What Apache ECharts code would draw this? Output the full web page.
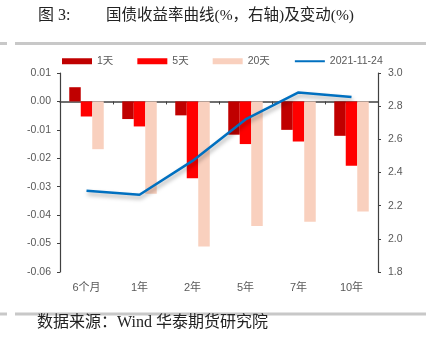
<!DOCTYPE html>
<html><head><meta charset="utf-8">
<script src="https://cdn.jsdelivr.net/npm/echarts@6/dist/echarts.min.js"></script>
<style>html,body{margin:0;padding:0;background:#fff}#c{width:426px;height:348px}</style>
</head><body><div id="c"></div>
<script>
const categories = ['6个月', '1年', '2年', '5年', '7年', '10年'];
const change1d = [0.005, -0.0062, -0.0049, -0.0117, -0.0100, -0.0121];
const change5d = [-0.0053, -0.0088, -0.0270, -0.0150, -0.0141, -0.0226];
const change20d = [-0.0168, -0.0325, -0.0510, -0.0438, -0.0423, -0.0387];
const yieldCurve = [2.29, 2.266, 2.47, 2.72, 2.883, 2.855];
const seriesNames = ['1天', '5天', '20天', '2021-11-24'];
const titleLabel = '图 3:';
const titleText = '国债收益率曲线(%，右轴)及变动(%)';
const sourceText = '数据来源：Wind 华泰期货研究院';

const chart = echarts.init(document.getElementById('c'), null, {renderer: 'canvas'});
const cjk = '"Liberation Serif", "Noto Sans CJK SC", serif';
const lab = '"Liberation Sans", "Noto Sans CJK SC", sans-serif';
const gray = '#595959';
const axisCol = '#404040';
chart.setOption({
  animation: false,
  backgroundColor: '#fff',
  grid: {left: 60, right: 48, top: 73, bottom: 76, containLabel: false},
  legend: {
    top: 51, left: 57, itemGap: 24, itemWidth: 30, itemHeight: 6,
    textStyle: {color: gray, fontSize: 10.5, fontFamily: lab},
    data: [
      {name: seriesNames[0], icon: 'rect'},
      {name: seriesNames[1], icon: 'rect'},
      {name: seriesNames[2], icon: 'rect'},
      {name: seriesNames[3], itemStyle: {opacity: 0}}
    ]
  },
  graphic: [
    {type: 'text', left: 38, top: 8, style: {text: titleLabel, font: '16px ' + cjk, fill: '#222'}},
    {type: 'text', left: 106, top: 8, style: {text: titleText, font: '15.5px ' + cjk, fill: '#222'}},
    {type: 'rect', shape: {x: 0, y: 42, width: 7, height: 3}, style: {fill: '#c8c8c8'}},
    {type: 'rect', shape: {x: 15, y: 42, width: 411, height: 3}, style: {fill: '#c8c8c8'}},
    {type: 'rect', shape: {x: 0, y: 312.5, width: 7, height: 3}, style: {fill: '#c8c8c8'}},
    {type: 'rect', shape: {x: 15, y: 312.5, width: 411, height: 3}, style: {fill: '#c8c8c8'}},
    {type: 'text', left: 37, top: 315, style: {text: sourceText, font: '16px ' + cjk, fill: '#222'}}
  ],
  xAxis: [
    {
      type: 'category', data: categories, position: 'bottom',
      axisLine: {show: false, onZero: false}, axisTick: {show: false},
      axisLabel: {color: gray, fontSize: 11, fontFamily: lab, margin: 10}
    },
    {
      type: 'category', data: categories, position: 'bottom',
      axisLine: {show: true, onZero: true, onZeroAxisIndex: 0, lineStyle: {color: axisCol, width: 1.5}},
      axisTick: {show: true, length: 3, lineStyle: {color: axisCol}},
      axisLabel: {show: false}
    }
  ],
  yAxis: [
    {
      type: 'value', min: -0.06, max: 0.01, interval: 0.01, position: 'left',
      splitLine: {show: false},
      axisLine: {show: true, lineStyle: {color: axisCol, width: 1.2}},
      axisTick: {show: true, length: 3, lineStyle: {color: axisCol}},
      axisLabel: {color: gray, fontSize: 10.5, fontFamily: lab, margin: 9,
        formatter: v => v.toFixed(2)}
    },
    {
      type: 'value', min: 1.8, max: 3.0, interval: 0.2, position: 'right',
      splitLine: {show: false},
      axisLine: {show: true, lineStyle: {color: axisCol, width: 1.2}},
      axisTick: {show: true, length: 3, lineStyle: {color: axisCol}},
      axisLabel: {color: gray, fontSize: 10.5, fontFamily: lab, margin: 10,
        formatter: v => v.toFixed(1)}
    }
  ],
  series: [
    {name: seriesNames[0], type: 'bar', data: change1d, barWidth: 11.5, barGap: '0%', itemStyle: {color: '#C00000'}},
    {name: seriesNames[1], type: 'bar', data: change5d, barWidth: 11.5, barGap: '0%', itemStyle: {color: '#FF0000'}},
    {name: seriesNames[2], type: 'bar', data: change20d, barWidth: 11.5, barGap: '0%', itemStyle: {color: '#F9D0BE'}},
    {name: seriesNames[3], type: 'line', yAxisIndex: 1, data: yieldCurve, symbol: 'none',
      lineStyle: {color: '#0070C0', width: 2.5, shadowColor: 'rgba(0,0,0,0.35)', shadowBlur: 4, shadowOffsetY: 3, shadowOffsetX: 1},
      itemStyle: {color: '#0070C0'}, z: 5}
  ]
});
</script></body></html>
